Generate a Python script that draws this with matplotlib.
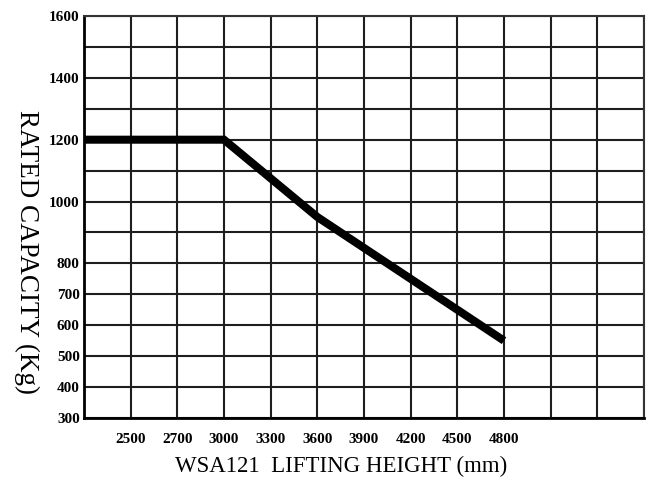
# WSA121 rated capacity vs lifting height

import numpy as np
import matplotlib
matplotlib.use('Agg')
import matplotlib.pyplot as plt

# Chart data
height_labels = ['2500', '2700', '3000', '3300', '3600', '3900', '4200', '4500', '4800']
capacity_ticks = [300, 400, 500, 600, 700, 800, 1000, 1200, 1400, 1600]
# load curve: grid column index (0 = left edge) and capacity in kg
curve_cols = [0, 3, 5, 9]
curve_kg = [1200, 1200, 950, 550]

n_cols = 12
serif = 'Liberation Serif'

fig = plt.figure(figsize=(6.52, 4.90), dpi=100)
ax = fig.add_axes([84/652, 1 - 418/490, 560/652, 402/490])

ax.plot(curve_cols, curve_kg, color='black', linewidth=5.8,
        solid_capstyle='butt', solid_joinstyle='miter', zorder=3)

ax.set_xlim(0, n_cols)
ax.set_ylim(300, 1600)
ax.set_xticks(range(1, len(height_labels) + 1))
ax.set_xticklabels(height_labels)
ax.set_xticks(range(0, n_cols + 1), minor=True)
ax.set_yticks(capacity_ticks)
ax.set_yticks(range(300, 1601, 100), minor=True)

ax.grid(which='both', color='#1e1e1e', linewidth=1.5)
ax.tick_params(which='both', length=0)
ax.tick_params(axis='x', labelsize=11, pad=11)
ax.tick_params(axis='y', labelsize=11, pad=3)
for lbl in ax.get_xticklabels() + ax.get_yticklabels():
    lbl.set_family(serif)
    lbl.set_weight('bold')
for s in ax.spines.values():
    s.set_color('#333333')
    s.set_linewidth(1.5)
ax.spines['left'].set_color('black')
ax.spines['left'].set_linewidth(2)
ax.spines['bottom'].set_color('black')
ax.spines['bottom'].set_linewidth(2)

# axis titles placed to match the original artwork
fig.text(341/652, 1 - 466/490, 'WSA121  LIFTING HEIGHT (mm)', family=serif,
         fontsize=16.5, ha='center', va='center')
fig.text(27/652, 1 - 252/490, 'RATED CAPACITY (Kg)', family=serif,
         fontsize=19.5, rotation=270, ha='center', va='center')

plt.savefig('out.png', dpi=100)
